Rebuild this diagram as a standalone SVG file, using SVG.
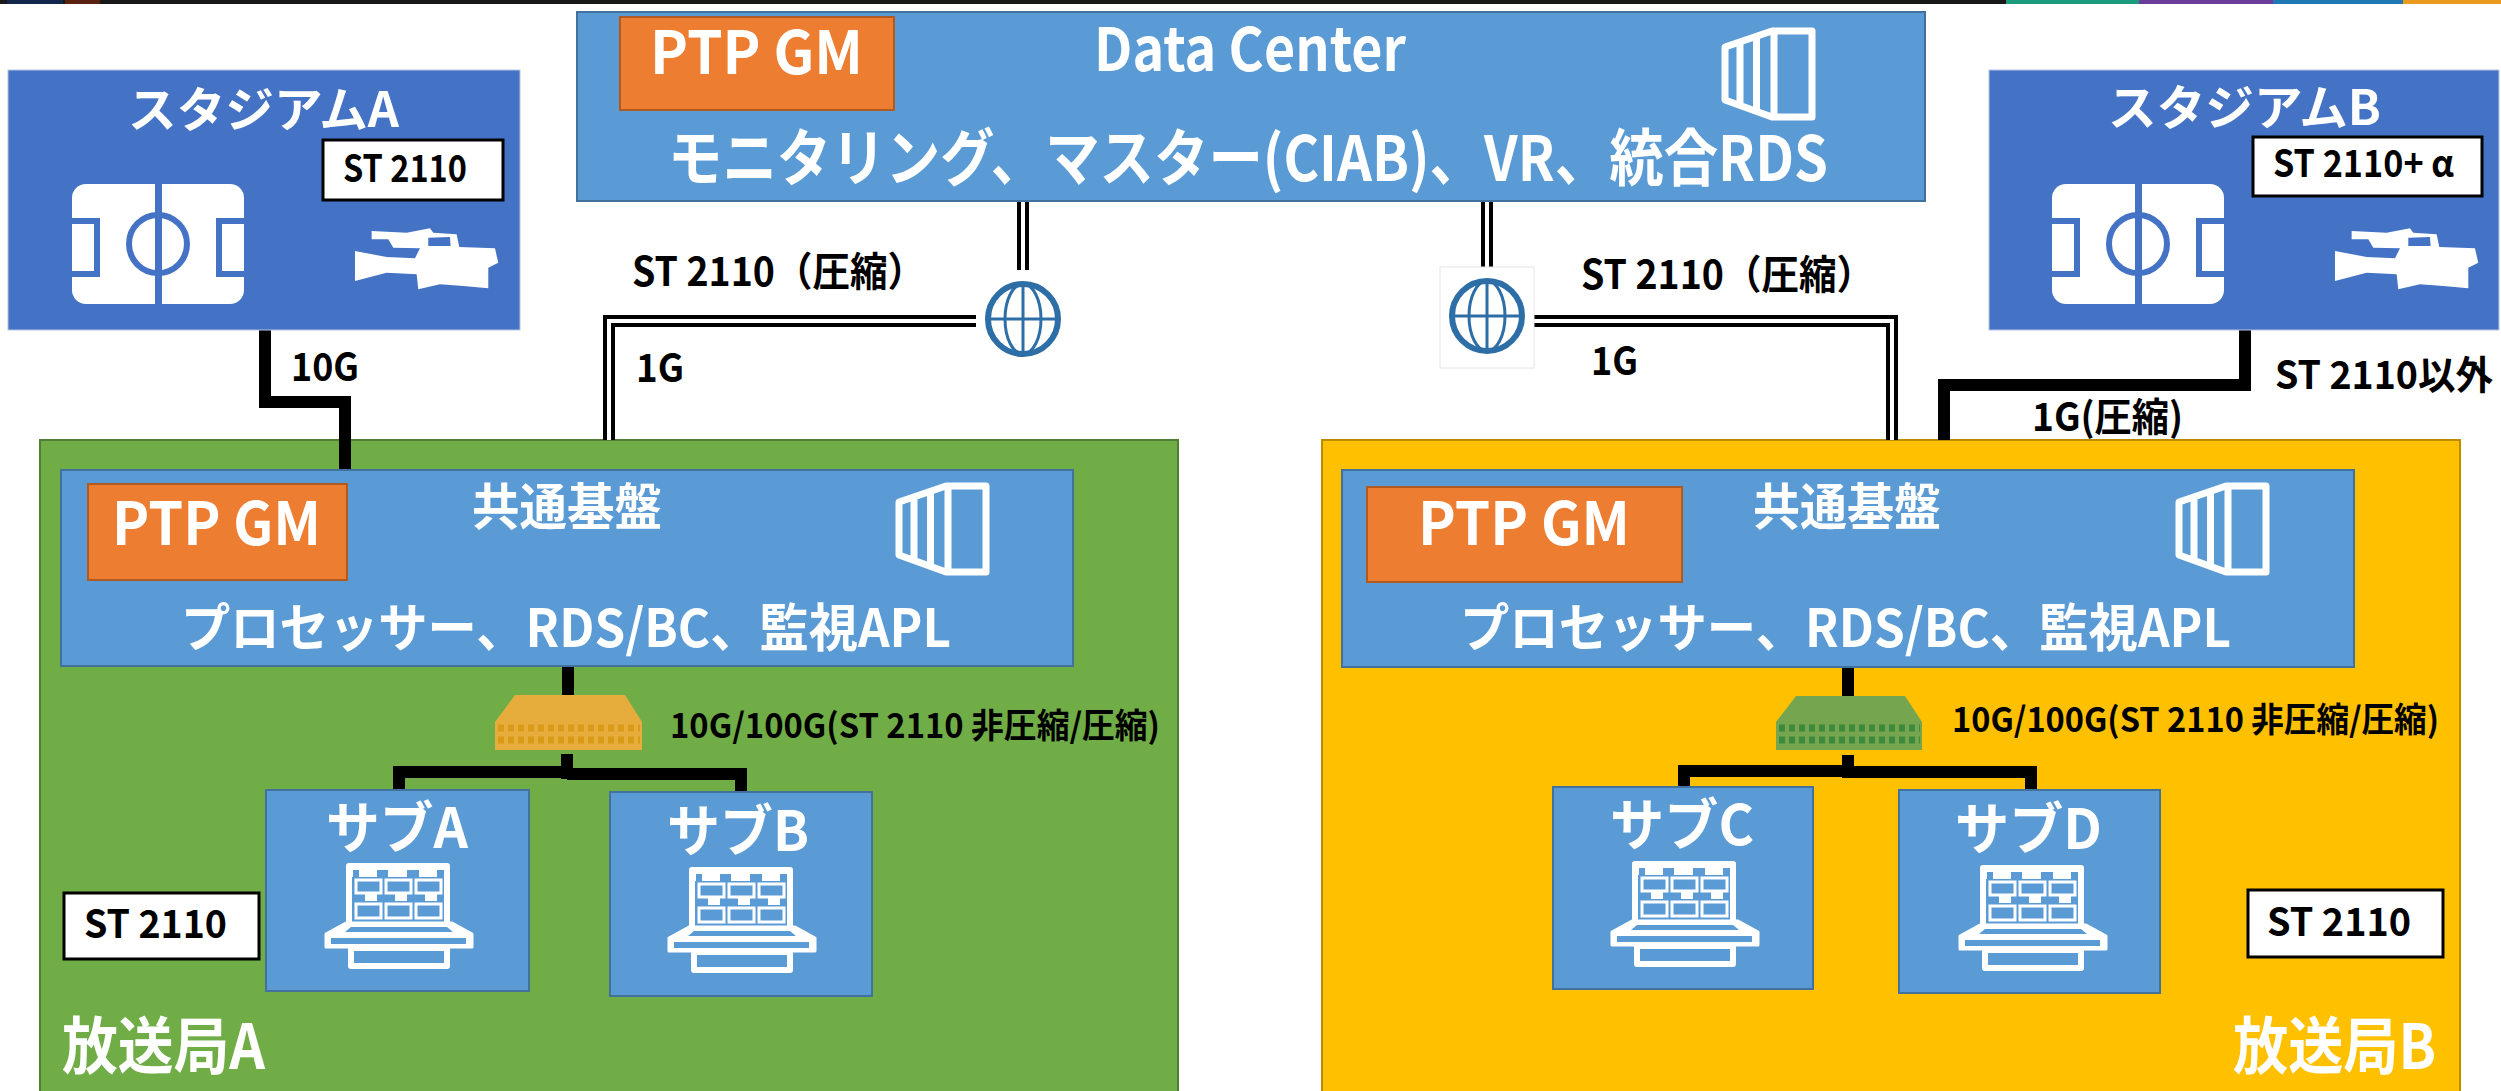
<svg xmlns="http://www.w3.org/2000/svg" width="2501" height="1091" viewBox="0 0 2501 1091">
<style>
text{font-family:"Noto Sans CJK JP","Noto Sans",sans-serif;font-weight:700}
.w{fill:#fff}.k{fill:#000}
.blue{fill:#5b9bd5;stroke:#41719c;stroke-width:2}
.stad{fill:#4472c4;stroke:#b9c6e0;stroke-width:1}
.ptp{fill:#ed7d31;stroke:#ae5a21;stroke-width:2}
.tag{fill:#fff;stroke:#000;stroke-width:3}
.thick{fill:none;stroke:#000;stroke-width:12}
.dbl1{fill:none;stroke:#000;stroke-width:12}
.dbl2{fill:none;stroke:#fff;stroke-width:4}
.icon{fill:none;stroke:#fff;stroke-width:7;stroke-linejoin:round}
</style>
<defs>
<g id="pitch">
<rect x="0" y="0" width="172" height="120" rx="14" fill="#fff"/>
<rect x="83" y="0" width="7" height="120" fill="#4472c4"/>
<circle cx="86" cy="60" r="29" fill="none" stroke="#4472c4" stroke-width="6"/>
<path d="M0 37H25V90H0M172 37H147V90H172" fill="none" stroke="#4472c4" stroke-width="6"/>
</g>
<g id="camera">
<path transform="translate(-315 -97) scale(.3333)" fill="#fff" fill-rule="evenodd" d="M995 300L1100 305L1170 292L1180 305L1250 310L1258 348L1365 352L1375 395L1345 410L1345 472L1270 465L1200 460L1135 475L1130 430L1040 425L945 450L945 360L1040 378L1125 382L1140 352L1060 350L1045 325L995 325ZM1165 320L1230 318L1232 345L1165 345Z"/>
</g>
<path id="server" class="icon" d="M3 20L50 4H90V90H50L3 73ZM18 15V78M34.500 10V84M52 4V90"/>
<g id="console">
<path fill="none" stroke="#fff" stroke-width="6" stroke-linejoin="round" d="M24 60V3H122V60"/>
<path fill="#fff" d="M27 6H119V14H27Z"/>
<path fill="#5b9bd5" d="M28 7h6v7h-6zM52 7h11v7h-11zM82 7h12v7h-12zM112 7h7v7h-7z"/>
<path fill="#fff" d="M40 30h12v8h-12zM70 30h12v8h-12zM100 30h12v8h-12z"/>
<path fill="#5b9bd5" stroke="#fff" stroke-width="3" d="M31 17h25v13h-25zM61 17h25v13h-25zM91 17h25v13h-25zM31 41h25v14h-25zM61 41h25v14h-25zM91 41h25v14h-25z"/>
<path fill="#fff" stroke="#fff" stroke-width="3" stroke-linejoin="round" d="M21 60H127L147 71V84H1V71Z"/>
<path fill="#5b9bd5" d="M26 64H122L128 69H20ZM6 75H141V81H6Z"/>
<path fill="#5b9bd5" stroke="#fff" stroke-width="6" stroke-linejoin="round" d="M26 85V103H122V85Z"/>
</g>
<g id="globe">
<ellipse cx="0" cy="0" rx="35" ry="35" fill="none" stroke="#2e6ea6" stroke-width="6"/>
<ellipse cx="0" cy="0" rx="18" ry="35" fill="none" stroke="#2e6ea6" stroke-width="3"/>
<path d="M0 -35V35M-35 0H35" fill="none" stroke="#2e6ea6" stroke-width="3"/>
</g>
</defs>
<rect width="2501" height="1091" fill="#fff"/>
<g id="topbar">
<rect width="2501" height="4" fill="#181818"/>
<rect x="7" width="56" height="4" fill="#10264a"/>
<rect x="65" width="35" height="4" fill="#5a2010"/>
<rect x="2006" width="133" height="4" fill="#1c9a7c"/>
<rect x="2139" width="134" height="4" fill="#6a3d9a"/>
<rect x="2273" width="130" height="4" fill="#1f78b4"/>
<rect x="2403" width="98" height="4" fill="#e89a1f"/>
</g>
<g id="station-a">
<rect x="40" y="440" width="1138" height="652" fill="#70ad47" stroke="#507e32" stroke-width="2"/>
<text class="w" x="62" y="1069" font-size="62" textLength="203" lengthAdjust="spacingAndGlyphs">放送局A</text>
</g>
<g id="station-b">
<rect x="1322" y="440" width="1138" height="652" fill="#ffc000" stroke="#bc8c00" stroke-width="2"/>
<text class="w" x="2233" y="1069" font-size="62" textLength="203" lengthAdjust="spacingAndGlyphs">放送局B</text>
</g>
<g id="connectors">
<path class="dbl1" d="M1023 201V270"/><path class="dbl2" d="M1023 201V270"/>
<path class="dbl1" d="M1487 201V267"/><path class="dbl2" d="M1487 201V267"/>
<path class="dbl1" d="M976 321H609V440"/><path class="dbl2" d="M976 321H609V440"/>
<path class="dbl1" d="M1534 321H1892V440"/><path class="dbl2" d="M1534 321H1892V440"/>
<path class="thick" d="M265 330V402H345V473"/>
<path class="thick" d="M2245 330V385H1944V440"/>
<path class="thick" d="M568 666V696"/>
<path class="thick" d="M1848 667V696"/>
<path class="thick" d="M567 754V779"/>
<path class="thick" d="M567 772H399V790"/>
<path class="thick" d="M567 774H741V792"/>
<path class="thick" d="M1848 755V778"/>
<path class="thick" d="M1848 771H1684V787"/>
<path class="thick" d="M1848 772H2031V790"/>
</g>
<g id="data-center">
<rect class="blue" x="577" y="12" width="1348" height="189"/>
<rect class="ptp" x="620" y="17" width="274" height="93"/>
<text class="w" x="650" y="74" font-size="60" textLength="213" lengthAdjust="spacingAndGlyphs">PTP GM</text>
<text class="w" x="1094" y="71" font-size="60" textLength="312" lengthAdjust="spacingAndGlyphs">Data Center</text>
<text class="w" x="668" y="181" font-size="62" textLength="1160" lengthAdjust="spacingAndGlyphs">モニタリング、マスター(CIAB)、VR、統合RDS</text>
<use href="#server" x="1722" y="27"/>
</g>
<g id="stadium-a">
<rect class="stad" x="8" y="70" width="512" height="260"/>
<text class="w" x="128" y="127" font-size="48" textLength="271" lengthAdjust="spacingAndGlyphs">スタジアムA</text>
<rect class="tag" x="323" y="140" width="180" height="60"/>
<text class="k" x="343" y="182" font-size="38" textLength="124" lengthAdjust="spacingAndGlyphs">ST 2110</text>
<use href="#pitch" x="72" y="184"/>
<use href="#camera" x="355" y="228"/>
</g>
<g id="stadium-b">
<rect class="stad" x="1989" y="70" width="510" height="260"/>
<text class="w" x="2108" y="125" font-size="48" textLength="273" lengthAdjust="spacingAndGlyphs">スタジアムB</text>
<rect class="tag" x="2253" y="137" width="229" height="59"/>
<text class="k" x="2273" y="177" font-size="38" textLength="181" lengthAdjust="spacingAndGlyphs">ST 2110+ α</text>
<use href="#pitch" x="2052" y="184"/>
<use href="#camera" x="2335" y="228"/>
</g>
<g id="globe-left">
<rect x="976" y="270" width="94" height="100" fill="#fff"/>
<use href="#globe" x="1023" y="319"/>
</g>
<g id="globe-right">
<rect x="1440" y="267" width="94" height="101" fill="#fff" stroke="#e4e4e4" stroke-width="1"/>
<use href="#globe" x="1487" y="316"/>
</g>
<g id="platform-a">
<rect class="blue" x="61" y="470" width="1012" height="196"/>
<rect class="ptp" x="88" y="484" width="259" height="96"/>
<text class="w" x="112" y="545" font-size="60" textLength="209" lengthAdjust="spacingAndGlyphs">PTP GM</text>
<text class="w" x="472" y="525" font-size="50" textLength="190" lengthAdjust="spacingAndGlyphs">共通基盤</text>
<text class="w" x="181" y="647" font-size="52" textLength="770" lengthAdjust="spacingAndGlyphs">プロセッサー、RDS/BC、監視APL</text>
<use href="#server" x="896" y="482"/>
</g>
<g id="platform-b">
<rect class="blue" x="1342" y="470" width="1012" height="197"/>
<rect class="ptp" x="1367" y="487" width="315" height="95"/>
<text class="w" x="1418" y="545" font-size="60" textLength="212" lengthAdjust="spacingAndGlyphs">PTP GM</text>
<text class="w" x="1753" y="525" font-size="50" textLength="188" lengthAdjust="spacingAndGlyphs">共通基盤</text>
<text class="w" x="1460" y="647" font-size="52" textLength="771" lengthAdjust="spacingAndGlyphs">プロセッサー、RDS/BC、監視APL</text>
<use href="#server" x="2176" y="482"/>
</g>
<g id="switch-a">
<path d="M515 695H625L642 722V750H495V722Z" fill="#e6ad3c"/>
<path d="M498 728H640M498 740H640" stroke="#d99a18" stroke-width="7" stroke-dasharray="6 4"/>
</g>
<g id="switch-b">
<path d="M1796 696H1905L1922 722V750H1776V722Z" fill="#76a54f"/>
<path d="M1779 728H1920M1779 740H1920" stroke="#3d8a3d" stroke-width="7" stroke-dasharray="6 4"/>
</g>
<g id="sub-a">
<rect class="blue" x="266" y="790" width="263" height="201"/>
<text class="w" x="326" y="848" font-size="56" textLength="142" lengthAdjust="spacingAndGlyphs">サブA</text>
<use href="#console" x="325" y="863"/>
</g>
<g id="sub-b">
<rect class="blue" x="610" y="792" width="262" height="204"/>
<text class="w" x="667" y="851" font-size="56" textLength="142" lengthAdjust="spacingAndGlyphs">サブB</text>
<use href="#console" x="668" y="867"/>
</g>
<g id="sub-c">
<rect class="blue" x="1553" y="787" width="260" height="202"/>
<text class="w" x="1610" y="845" font-size="56" textLength="144" lengthAdjust="spacingAndGlyphs">サブC</text>
<use href="#console" x="1611" y="861"/>
</g>
<g id="sub-d">
<rect class="blue" x="1899" y="790" width="261" height="203"/>
<text class="w" x="1955" y="849" font-size="56" textLength="147" lengthAdjust="spacingAndGlyphs">サブD</text>
<use href="#console" x="1959" y="865"/>
</g>
<g id="tag-a">
<rect class="tag" x="64" y="893" width="195" height="66"/>
<text class="k" x="84" y="938" font-size="39" textLength="143" lengthAdjust="spacingAndGlyphs">ST 2110</text>
</g>
<g id="tag-b">
<rect class="tag" x="2248" y="890" width="195" height="67"/>
<text class="k" x="2267" y="936" font-size="39" textLength="144" lengthAdjust="spacingAndGlyphs">ST 2110</text>
</g>
<g id="labels">
<text class="k" x="632" y="286" font-size="40" textLength="293" lengthAdjust="spacingAndGlyphs">ST 2110（圧縮）</text>
<text class="k" x="291" y="381" font-size="39" textLength="68" lengthAdjust="spacingAndGlyphs">10G</text>
<text class="k" x="636" y="382" font-size="39" textLength="48" lengthAdjust="spacingAndGlyphs">1G</text>
<text class="k" x="1581" y="289" font-size="40" textLength="293" lengthAdjust="spacingAndGlyphs">ST 2110（圧縮）</text>
<text class="k" x="1591" y="375" font-size="39" textLength="47" lengthAdjust="spacingAndGlyphs">1G</text>
<text class="k" x="2032" y="431" font-size="39" textLength="151" lengthAdjust="spacingAndGlyphs">1G(圧縮)</text>
<text class="k" x="2275" y="389" font-size="39" textLength="218" lengthAdjust="spacingAndGlyphs">ST 2110以外</text>
<text class="k" x="670" y="738" font-size="34" textLength="490" lengthAdjust="spacingAndGlyphs">10G/100G(ST 2110 非圧縮/圧縮)</text>
<text class="k" x="1952" y="732" font-size="34" textLength="487" lengthAdjust="spacingAndGlyphs">10G/100G(ST 2110 非圧縮/圧縮)</text>
</g>
</svg>
